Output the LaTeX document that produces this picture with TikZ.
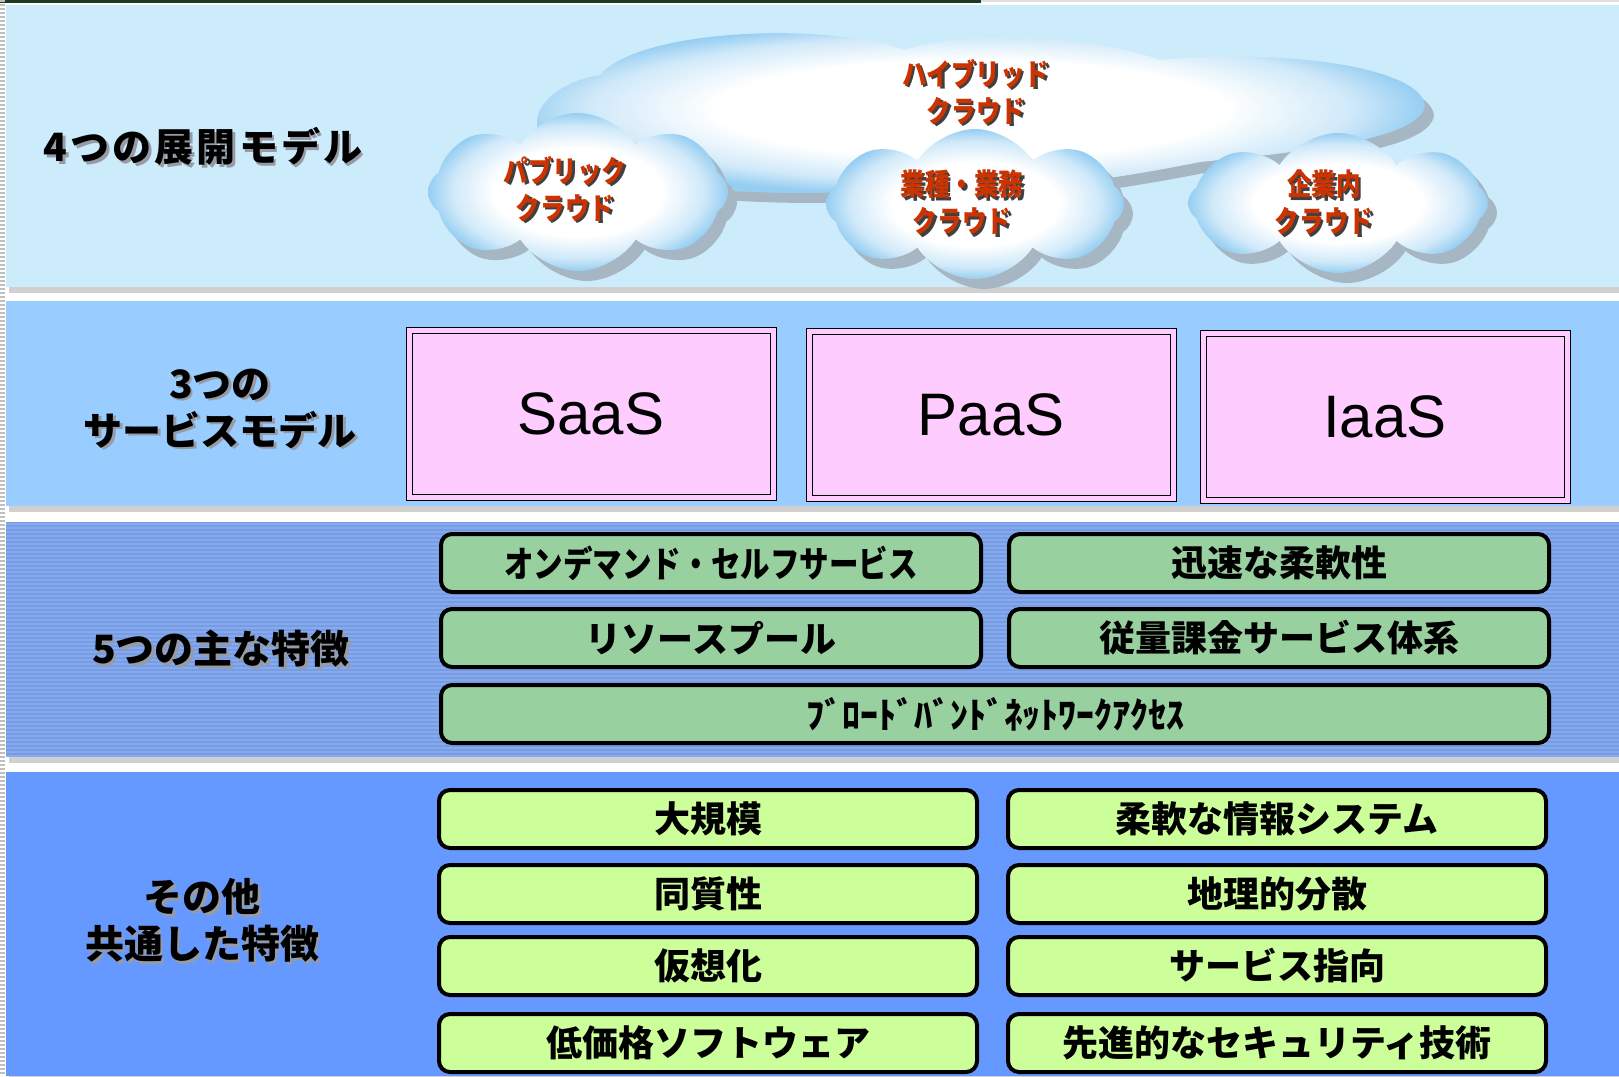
\documentclass[tikz,border=0pt]{standalone}
\usepackage{fontspec}
\setmainfont{Liberation Sans}
\newfontfamily\jp{Noto Sans CJK JP}
\newfontfamily\jpnarrow{Noto Sans CJK JP}[FakeStretch = 0.82]
\usetikzlibrary{shapes.symbols,shadows}

\definecolor{topline}{RGB}{31,58,36}
\definecolor{bandA}{RGB}{204,236,252}
\definecolor{bandB}{RGB}{153,204,255}
\definecolor{bandC}{RGB}{120,156,228}
\definecolor{bandCstripe}{RGB}{134,170,238}
\definecolor{bandD}{RGB}{102,153,255}
\definecolor{cloudrim}{RGB}{150,206,242}
\definecolor{cloudshadow}{RGB}{166,182,194}
\definecolor{cloudred}{RGB}{204,51,0}
\definecolor{svcpink}{RGB}{255,204,255}
\definecolor{featgreen}{RGB}{153,208,160}
\definecolor{otherlime}{RGB}{204,255,153}
\definecolor{textshadow}{RGB}{150,155,165}

\pgfdeclareradialshading{cloudglow}{\pgfpoint{0bp}{0bp}}{color(0bp)=(white); color(14bp)=(white); color(21bp)=(cloudrim!45!white); color(25bp)=(cloudrim); color(50bp)=(cloudrim)}

% text with a soft copy behind it
\newcommand\shadowed[2]{\makebox[0pt][l]{\kern2.5pt\raisebox{-2.5pt}{\color{#1}#2}}#2}

\tikzset{
    band/.style = {drop shadow = {shadow xshift = 3pt, shadow yshift = -6pt, fill = black!30, opacity = 0.6}},
    heading/.style = {font = {\jp\bfseries\fontsize{39}{47}\selectfont}, align = center},
    puff/.style = {cloud, cloud puffs = 8, cloud puff arc = 115, aspect = 1.9, shade, shading = cloudglow,
        drop shadow = {shadow xshift = 9pt, shadow yshift = -10pt, fill = cloudshadow, opacity = 1}},
    cloudname/.style = {font = {\jpnarrow\bfseries\fontsize{30}{37}\selectfont}, text = cloudred, align = center},
    svcbox/.style = {draw = black, line width = 1pt, double = svcpink, double distance = 5pt, fill = svcpink,
        minimum width = 364pt, minimum height = 167pt, font = \fontsize{60}{72}\selectfont},
    featbox/.style = {draw = black, line width = 4pt, rounded corners = 11pt, fill = featgreen,
        minimum width = 540pt, minimum height = 58pt, font = {\jp\bfseries\fontsize{36}{40}\selectfont}},
    otherbox/.style = {featbox, fill = otherlime, minimum width = 538pt}
}

\begin{document}
\begin{tikzpicture}[x = 1pt,y = -1pt,thick]
        \useasboundingbox (0,0) rectangle (1619,1076);
        \fill[white] (0,0) rectangle (1619,1076);

        % the four layers
        \foreach \top/\bot/\col in {5/287/bandA,301/506/bandB,522/757/bandC,772/1076/bandD}
            \fill[band,\col] (6,\top) rectangle (1619,\bot);
        \foreach \k in {0,...,58}
            \draw[bandCstripe,line width = 2pt] (6,524+4*\k) -- (1619,524+4*\k);
        \draw[topline,line width = 3pt] (0,1.5) -- (981,1.5);
        \draw[black!12,line width = 2pt] (981,1) -- (1619,1);
        \draw[black!25,line width = 5pt,dash pattern = on 2pt off 2pt] (2.5,0) -- (2.5,1076);

        % layer titles
        \node[heading,font = {\jp\bfseries\fontsize{39}{47}\selectfont\addfontfeature{LetterSpace = 8}}] (deploy) at (203,148) {\shadowed{textshadow}{4つの展開モデル}};
        \node[heading] (service) at (220,410) {\shadowed{textshadow}{3つの}\\\shadowed{textshadow}{サービスモデル}};
        \node[heading] (feature) at (221,650) {\shadowed{textshadow}{5つの主な特徴}};
        \node[heading] (common) at (202,922) {\shadowed{textshadow}{その他}\\\shadowed{textshadow}{共通した特徴}};

        % deployment clouds
        \shade[shading = cloudglow,
            drop shadow = {shadow xshift = 9pt,shadow yshift = -10pt,fill = cloudshadow,opacity = 1}]
            (1425,105) .. controls (1420,70) and (1300,48) .. (1160,60)
            .. controls (1080,32) and (960,32) .. (905,50)
            .. controls (830,22) and (640,28) .. (600,75)
            .. controls (540,85) and (515,130) .. (560,152)
            .. controls (600,188) and (750,196) .. (850,192)
            .. controls (1000,196) and (1100,182) .. (1200,162)
            .. controls (1300,152) and (1422,140) .. (1425,105) -- cycle;
        \node[puff,minimum width = 300pt,minimum height = 158pt] (public) at (578,192) {};
        \node[puff,minimum width = 298pt,minimum height = 150pt] (industry) at (975,204) {};
        \node[puff,minimum width = 300pt,minimum height = 140pt] (private) at (1338,203) {};

        \node[cloudname] (hybridname) at (976,93) {\shadowed{black!75}{ハイブリッド}\\\shadowed{black!75}{クラウド}};
        \node[cloudname] (publicname) at (565,190) {\shadowed{black!75}{パブリック}\\\shadowed{black!75}{クラウド}};
        \node[cloudname] (industryname) at (962,204) {\shadowed{black!75}{業種・業務}\\\shadowed{black!75}{クラウド}};
        \node[cloudname] (privatename) at (1324,204) {\shadowed{black!75}{企業内}\\\shadowed{black!75}{クラウド}};

        % service models
        \foreach \id/\x/\y/\txt in {saas/591/414/SaaS,paas/991/415/PaaS,iaas/1385/417/IaaS}
            \node[svcbox] (\id) at (\x,\y) {\txt};

        % essential characteristics
        \foreach \id/\x/\y/\txt in {ondemand/711/563/{\jpnarrow オンデマンド・セルフサービス},elastic/1279/563/迅速な柔軟性,
                pool/711/638/リソースプール,metered/1279/638/従量課金サービス体系}
            \node[featbox] (\id) at (\x,\y) {\txt};
        \node[featbox,minimum width = 1108pt] (broadband) at (995,714) {ﾌﾞﾛｰﾄﾞﾊﾞﾝﾄﾞﾈｯﾄﾜｰｸｱｸｾｽ};

        % common characteristics
        \foreach \id/\x/\y/\txt in {massive/708/819/大規模,flexible/1277/819/柔軟な情報システム,
                homogeneity/708/894/同質性,geographic/1277/894/地理的分散,
                virtual/708/966/仮想化,orientation/1277/966/サービス指向,
                lowcost/708/1043/低価格ソフトウェア,security/1277/1043/先進的なセキュリティ技術}
            \node[otherbox] (\id) at (\x,\y) {\txt};
\end{tikzpicture}
\end{document}
